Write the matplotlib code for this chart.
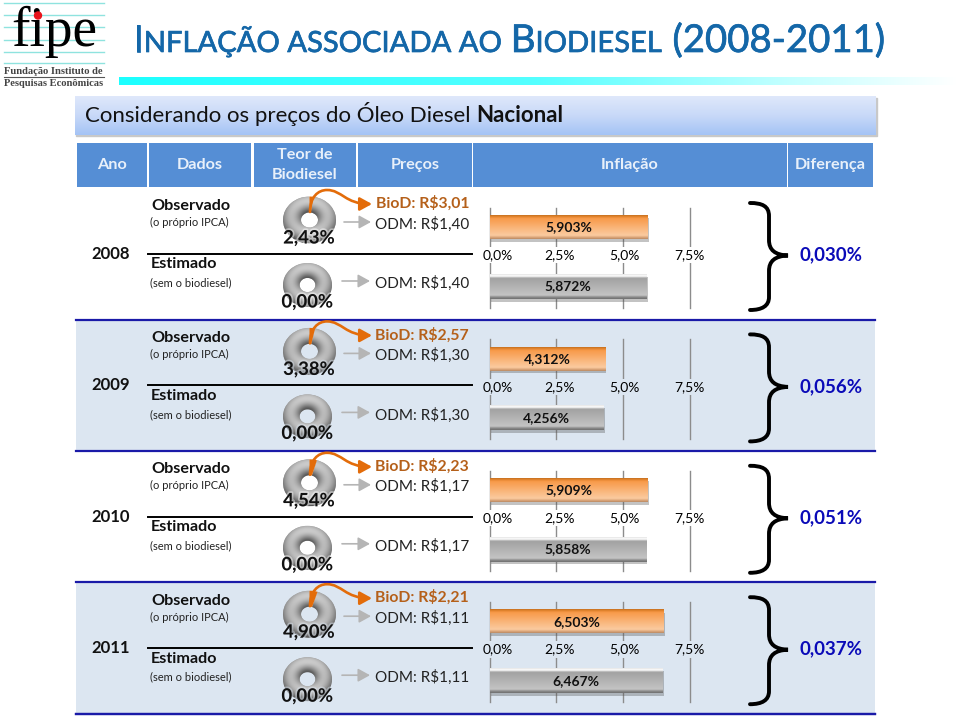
import matplotlib
matplotlib.use("Agg")
import matplotlib.pyplot as plt
import matplotlib.patheffects as pe
import numpy as np
from matplotlib.colors import to_rgb
from matplotlib.patches import FancyArrowPatch, Rectangle, PathPatch
from matplotlib.path import Path
from matplotlib.transforms import ScaledTranslation

plt.rcParams['font.family'] = ['Lato', 'DejaVu Sans']

W, H = 959, 720

years = ["2008", "2009", "2010", "2011"]
teor_obs = [2.43, 3.38, 4.54, 4.90]
teor_est = [0.00, 0.00, 0.00, 0.00]
biod_price = [3.01, 2.57, 2.23, 2.21]
odm_price = [1.40, 1.30, 1.17, 1.11]
infl_obs = [5.903, 4.312, 5.909, 6.503]
infl_est = [5.872, 4.256, 5.858, 6.467]
diferenca = [0.030, 0.056, 0.051, 0.037]
infl_ticks = [0.0, 2.5, 5.0, 7.5]
headers = ["Ano", "Dados", "Teor de\nBiodiesel", "Preços", "Inflação", "Diferença"]
header_x = [(77, 147), (149, 251), (254, 356), (358, 472), (473, 787), (788, 873)]
row_step = 131.4
shade = "#dce6f1"
orange = "#e36c0a"
navy = "#1a1aa8"


def br(v, n):
    return f"{v:.{n}f}".replace(".", ",")


def inset(x, y, w, h, z=2):
    a = fig.add_axes([x / W, 1 - (y + h) / H, w / W, h / H], zorder=z)
    a.patch.set_alpha(0)
    return a


def grad(a, extent, stops, z=1, horizontal=False):
    rows = [to_rgb(c) for _, c in stops]
    pos = [p for p, _ in stops]
    t = np.linspace(0, 1, 128)
    img = np.stack([np.interp(t, pos, [c[i] for c in rows]) for i in range(3)], axis=-1)
    img = img[None, :, :] if horizontal else img[:, None, :]
    return a.imshow(img, extent=extent, aspect='auto', origin='upper', zorder=z, interpolation='bilinear')


def pieces(a, x, y, parts, color, shadow=False):
    # runs of text with different size/weight on the same baseline
    r = fig.canvas.get_renderer()
    for s, size, weight, gap in parts:
        t = a.text(x, y, s, fontsize=size, fontweight=weight, color=color, va='baseline', ha='left')
        if shadow:
            t.set_path_effects([pe.SimpleLineShadow(offset=(1.2, -1.2), alpha=0.45),
                                pe.withStroke(linewidth=0.5, foreground=color)])
        x = t.get_window_extent(r).x1 + gap


def donut(cx, cy, rx, ry, value):
    a = inset(cx - rx, cy - ry, 2 * rx, 2 * ry)
    wedges, _ = a.pie([value, 100 - value], colors=[orange, "#a6a6a6"], startangle=90, counterclock=False,
                      radius=1, wedgeprops=dict(width=0.68, linewidth=0))
    a.set_aspect('auto')
    # torus shading, lit from above
    g = np.linspace(-1, 1, 120)
    xx, yy = np.meshgrid(g, g[::-1])
    rr = np.hypot(xx, yy) + 1e-6
    t = np.clip((rr - 0.32) / 0.68, 0, 1)
    nr = -np.cos(np.pi * t)
    nz = np.sin(np.pi * t)
    light = 0.6 * nz + 0.5 * nr * yy / rr
    val = np.clip(0.5 + 0.38 * light, 0.35, 0.92)
    im = a.imshow(val, extent=(-1, 1, -1, 1), cmap='gray', vmin=0, vmax=1, aspect='auto', zorder=1.5)
    im.set_clip_path(wedges[1])
    wedges[0].set_zorder(2)
    a.set_xlim(-1, 1)
    a.set_ylim(-1, 1)
    a.axis('off')


def infl_chart(y0, obs, est, bg):
    a = inset(489.5, y0, 201.5, 100)
    x_max = 7.5 * 201.5 / 200.5
    a.set_xlim(0, x_max)
    a.set_ylim(1.364, -0.33)
    bars = a.barh([0, 1], [obs, est], height=[0.40, 0.42], color=["#f79646", "#a6a6a6"], zorder=3, linewidth=0)
    for b in bars:
        b.set_path_effects([pe.SimplePatchShadow(offset=(1, -2), alpha=0.35, shadow_rgbFace="#555555"), pe.Normal()])
    o = bars[0].get_bbox()
    grad(a, (o.x0, o.x1, o.y1, o.y0), [(0, "#c5701f"), (0.07, "#e5862f"), (0.14, "#f89a4a"), (0.85, "#fbcba0"),
                                       (0.93, "#dca67a"), (1, "#b98a64")], z=3.1)
    e = bars[1].get_bbox()
    grad(a, (e.x0, e.x1, e.y1, e.y0), [(0, "#e4e4e4"), (0.08, "#ffffff"), (0.16, "#a2a2a2"), (0.85, "#c4c4c4"),
                                       (0.92, "#8e8e8e"), (1, "#6e6e6e")], z=3.1)
    a.set_xlim(0, x_max)
    a.set_ylim(1.364, -0.33)
    a.bar_label(bars, labels=[br(obs, 3) + "%", br(est, 3) + "%"], label_type='center', fontsize=10,
                fontweight='bold', color="#111111", zorder=6)
    a.set_xticks(infl_ticks)
    a.set_xticklabels([br(v, 1) + "%" for v in infl_ticks], fontsize=8.8, color="#333333")
    a.set_yticks([])
    a.grid(axis='x', color="#8c8c8c", linewidth=1)
    a.set_axisbelow(True)
    for s in ['top', 'left', 'right']:
        a.spines[s].set_visible(False)
    a.spines['bottom'].set_position(('data', 0.37))
    a.spines['bottom'].set_visible(False)
    a.tick_params(axis='x', length=0, pad=0)
    for ln in a.get_xgridlines():
        ln.set_clip_on(False)
    for lbl, dx in zip(a.get_xticklabels(), [8.5, 3, 1, -1]):
        lbl.set_bbox(dict(facecolor=bg, edgecolor='none', pad=1.5))
        lbl.set_transform(lbl.get_transform() + ScaledTranslation(dx / 100, 0, fig.dpi_scale_trans))


def brace(a, dy):
    v = [(750, 203), (762, 203), (769, 206), (769, 216), (769, 240), (769, 250), (775, 255), (788, 255.5),
         (775, 256), (769, 261), (769, 271), (769, 297), (769, 306), (762, 310), (750, 310)]
    c = [Path.MOVETO, Path.CURVE4, Path.CURVE4, Path.CURVE4, Path.LINETO, Path.CURVE4, Path.CURVE4, Path.CURVE4,
         Path.CURVE4, Path.CURVE4, Path.CURVE4, Path.LINETO, Path.CURVE4, Path.CURVE4, Path.CURVE4]
    a.add_patch(PathPatch(Path([(x, y + dy) for x, y in v], c), fill=False, edgecolor='black', linewidth=2.8,
                          capstyle='round'))


fig = plt.figure(figsize=(W / 100, H / 100), dpi=100)
fig.patch.set_facecolor('white')

bg = fig.add_axes([0, 0, 1, 1], zorder=0)
top = fig.add_axes([0, 0, 1, 1], zorder=5)
top.patch.set_alpha(0)
for a in (bg, top):
    a.set_xlim(0, W)
    a.set_ylim(H, 0)
    a.axis('off')

# logo
for y in [3, 15, 27, 40, 52, 63]:
    bg.plot([4, 104], [y, y], color="#8fe3df", linewidth=1)
top.text(11, 46, "fipe", fontsize=40, family='Liberation Serif', color='black', va='baseline', ha='left')
top.add_patch(plt.Circle((38, 15.5), 3.5, color="#e8141c", zorder=4))
top.text(4, 71, "Fundação Instituto de", fontsize=7.6, family='Liberation Serif', color="#444444", va='center', fontweight='bold')
bg.plot([4, 104], [77, 77], color="#555555", linewidth=0.8)
top.text(4, 83, "Pesquisas Econômicas", fontsize=7.6, family='Liberation Serif', color="#444444", va='center', fontweight='bold')

# title
pieces(top, 133, 52, [("I", 27.6, 'normal', 0), ("NFLAÇÃO ASSOCIADA AO", 21, 'normal', 9), ("B", 27.6, 'normal', 0),
                      ("IODIESEL", 21, 'normal', 11), ("(2008-2011)", 27.6, 'normal', 0)], "#1467a8", shadow=True)
grad(bg, (119, 959, 85, 77), [(0, "#1cffff"), (0.5, "#55ffff"), (0.8, "#c4ffff"), (1, "#ffffff")], horizontal=True)

# subtitle box
bg.add_patch(Rectangle((76, 98), 801, 38, color="#c8c8c8", zorder=0.5))
grad(bg, (75, 876, 135, 96), [(0, "#dfe8fb"), (0.5, "#c8d9f8"), (1, "#a4c3f5")])
pieces(top, 85, 122, [("Considerando os preços do Óleo Diesel", 16, 'normal', 6), ("Nacional", 16, 'bold', 0)], "#111111")

# header
for (x0, x1), txt in zip(header_x, headers):
    bg.add_patch(Rectangle((x0, 143), x1 - x0, 44, color="#558ed5", zorder=1, linewidth=0))
    top.text((x0 + x1) / 2, 165, txt, fontsize=11.7, fontweight='bold', color="#e8f0fa", ha='center', va='center',
             linespacing=1.5)

# rows
for i in range(4):
    dy = i * row_step
    row_bg = shade if i % 2 else "white"
    if i % 2:
        bg.add_patch(Rectangle((76, 319.5 + dy - row_step), 799, row_step, color=shade, zorder=0.5, linewidth=0))
    bg.plot([76, 875], [319.5 + dy, 319.5 + dy], color=navy, linewidth=1.6, zorder=1)
    bg.plot([148, 472], [254 + dy, 254 + dy], color="black", linewidth=1.4, zorder=1)

    top.text(110.5, 254 + dy, years[i], fontsize=12, fontweight='bold', color="#111111", ha='center', va='center')
    top.text(151, 210.5 + dy, "Observado", fontsize=11.6, fontweight='bold', color="#111111", va='baseline')
    top.text(150, 226.5 + dy, "(o próprio IPCA)", fontsize=8, color="#222222", va='baseline')
    top.text(151, 268.5 + dy, "Estimado", fontsize=11.6, fontweight='bold', color="#111111", va='baseline')
    top.text(150, 286.5 + dy, "(sem o biodiesel)", fontsize=8, color="#222222", va='baseline')

    donut(309.5, 220 + dy, 26.5, 23.5, teor_obs[i])
    donut(307.5, 285 + dy, 24.5, 22, teor_est[i])
    glow = [pe.withStroke(linewidth=2.5, foreground=row_bg, alpha=0.45)]
    top.text(309, 238 + dy, br(teor_obs[i], 2) + "%", fontsize=13.3, fontweight='bold', color="#111111", ha='center',
             va='center', path_effects=glow)
    top.text(307.5, 302 + dy, br(teor_est[i], 2) + "%", fontsize=13.3, fontweight='bold', color="#111111", ha='center',
             va='center', path_effects=glow)

    curve = Path([(310, 212 + dy), (310, 197 + dy), (318, 190 + dy), (327, 190 + dy), (342, 190 + dy), (345, 204 + dy),
                  (372, 204 + dy)], [Path.MOVETO] + [Path.CURVE4] * 6)
    top.add_patch(FancyArrowPatch(path=curve, arrowstyle='-|>,head_length=4,head_width=2.2', color=orange, linewidth=1.9,
                                  mutation_scale=1.8, shrinkA=0, shrinkB=0))
    for x0, x1, yy in [(344, 371, 222), (342, 370, 281)]:
        top.add_patch(FancyArrowPatch((x0, yy + dy), (x1, yy + dy), arrowstyle='-|>,head_length=4,head_width=2.2',
                                      color="#b5b5b5", linewidth=1.2, mutation_scale=1.8, shrinkA=0, shrinkB=0))

    top.text(469, 208 + dy, "BioD: R$" + br(biod_price[i], 2), fontsize=11.3, fontweight='bold', color="#b5601a", ha='right',
             va='baseline')
    top.text(469, 228.5 + dy, "ODM: R$" + br(odm_price[i], 2), fontsize=11, color="#222222", ha='right', va='baseline')
    top.text(469, 288 + dy, "ODM: R$" + br(odm_price[i], 2), fontsize=11, color="#222222", ha='right', va='baseline')

    infl_chart(208 + dy, infl_obs[i], infl_est[i], row_bg)
    brace(top, dy)
    top.text(831, 255 + dy, br(diferenca[i], 3) + "%", fontsize=13.5, fontweight='bold', color="#0a0ab8", ha='center',
             va='center')

bottom_y = 319.5 + 3 * row_step
bg.plot([76, 875], [bottom_y, bottom_y], color=navy, linewidth=1.6, zorder=1)

for a in (bg, top):
    a.set_xlim(0, W)
    a.set_ylim(H, 0)

fig.savefig("out.png", dpi=100)
